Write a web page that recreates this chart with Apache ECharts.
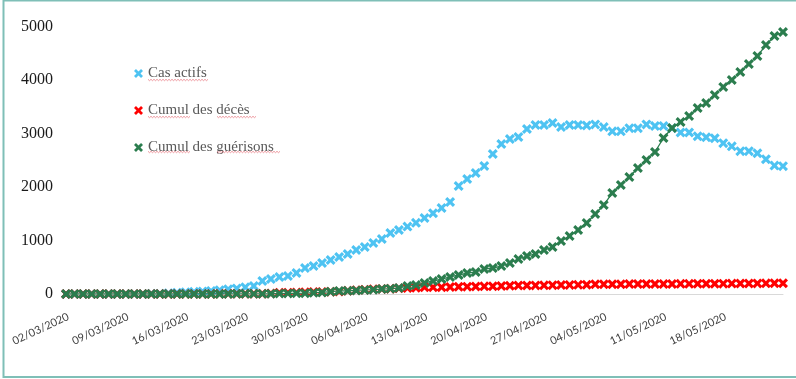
<!DOCTYPE html>
<html>
<head>
<meta charset="utf-8">
<script src="https://cdn.jsdelivr.net/npm/echarts@6/dist/echarts.min.js"></script>
<style>
html,body{margin:0;padding:0;background:#fff;}
#c{width:796px;height:379px;}
</style>
</head>
<body>
<div id="c"></div>
<script>
// Categories (daily, 02/03/2020 -> 25/05/2020)
const dates = [
"02/03/2020","03/03/2020","04/03/2020","05/03/2020","06/03/2020","07/03/2020","08/03/2020","09/03/2020","10/03/2020","11/03/2020",
"12/03/2020","13/03/2020","14/03/2020","15/03/2020","16/03/2020","17/03/2020","18/03/2020","19/03/2020","20/03/2020","21/03/2020",
"22/03/2020","23/03/2020","24/03/2020","25/03/2020","26/03/2020","27/03/2020","28/03/2020","29/03/2020","30/03/2020","31/03/2020",
"01/04/2020","02/04/2020","03/04/2020","04/04/2020","05/04/2020","06/04/2020","07/04/2020","08/04/2020","09/04/2020","10/04/2020",
"11/04/2020","12/04/2020","13/04/2020","14/04/2020","15/04/2020","16/04/2020","17/04/2020","18/04/2020","19/04/2020","20/04/2020",
"21/04/2020","22/04/2020","23/04/2020","24/04/2020","25/04/2020","26/04/2020","27/04/2020","28/04/2020","29/04/2020","30/04/2020",
"01/05/2020","02/05/2020","03/05/2020","04/05/2020","05/05/2020","06/05/2020","07/05/2020","08/05/2020","09/05/2020","10/05/2020",
"11/05/2020","12/05/2020","13/05/2020","14/05/2020","15/05/2020","16/05/2020","17/05/2020","18/05/2020","19/05/2020","20/05/2020",
"21/05/2020","22/05/2020","23/05/2020","24/05/2020","25/05/2020"
];

// Tick labels shown on the date axis
const xTickLabels = ["02/03/2020","09/03/2020","16/03/2020","23/03/2020","30/03/2020","06/04/2020","13/04/2020","20/04/2020","27/04/2020","04/05/2020","11/05/2020","18/05/2020"];

const seriesNames = ["Cas actifs", "Cumul des décès", "Cumul des guérisons"];

const casActifs = [
1,1,1,1,1,1,1,1,1,1,
5,6,15,25,33,40,48,58,72,88,105,125,
150,243,280,318,336,392,486,523,579,635,692,748,822,878,953,1028,1140,1196,
1260,1330,1420,1510,
1607,1720,2018,2149,2261,2392,2617,2803,2897,2934,3084,
3159,3159,3196,3121,3159,3159,3150,3170,3120,3040,3040,3100,3100,3170,3140,3140,3100,3020,3020,2950,2930,2910,2820,2760,2670,2670,2630,2520,2400,2390
];

const cumulDeces = [
0,0,0,0,0,0,0,0,
1,1,1,1,1,1,
2,2,2,2,
3,3,4,4,
5,6,10,23,25,26,33,36,
39,44,48,59,70,80,90,93,97,107,
111,118,126,126,127,130,135,137,141,143,
145,149,155,158,159,161,162,165,168,170,
171,173,181,181,183,183,186,186,188,188,
188,188,190,190,192,192,192,193,194,196,
197,198,199,200,202
];

const cumulGuerisons = [
0,0,0,0,0,0,0,0,0,0,0,0,0,0,0,
1,1,1,1,2,
3,3,3,3,5,8,11,13,15,24,
29,44,57,59,66,76,81,93,100,112,
150,168,206,243,280,318,355,392,411,467,
486,523,579,654,710,748,822,878,991,1084,
1196,1327,1495,1663,1888,2037,2187,2355,2504,2654,
2916,3103,3215,3327,3476,3570,3719,3869,4000,4149,
4299,4448,4654,4822,4897
];

const yTicks = [0, 1000, 2000, 3000, 4000, 5000];

const colors = ["#4ec3f2", "#ff0000", "#2b7d4e"];
const xMark = 'path://M0,2.2 L2.2,0 L5,2.8 L7.8,0 L10,2.2 L7.2,5 L10,7.8 L7.8,10 L5,7.2 L2.2,10 L0,7.8 L2.8,5 Z';

function squiggle(x0, x1, y) {
  const pts = [];
  let up = true;
  for (let x = x0; x <= x1; x += 1.5) { pts.push([x, y + (up ? -0.7 : 0.7)]); up = !up; }
  return {type: 'polyline', silent: true, z: 10, shape: {points: pts}, style: {stroke: '#e87b84', lineWidth: 0.8, fill: null}};
}

const chart = echarts.init(document.getElementById('c'), null, {renderer: 'canvas'});
chart.setOption({
  animation: false,
  backgroundColor: '#ffffff',
  grid: {left: 66, right: 13, top: 26.5, bottom: 85, containLabel: false},
  legend: {
    orient: 'vertical',
    left: 134,
    top: 66,
    padding: 0,
    itemWidth: 9,
    itemHeight: 14,
    itemGap: 22,
    textStyle: {fontFamily: '"Liberation Serif", serif', fontSize: 15, color: '#595959'},
    data: seriesNames.map((n, i) => ({name: n, icon: xMark, itemStyle: {color: colors[i]}}))
  },
  xAxis: {
    type: 'category',
    data: dates,
    boundaryGap: false,
    axisLine: {lineStyle: {color: '#d9d9d9', width: 1}},
    axisTick: {show: false},
    axisLabel: {
      interval: (idx, val) => xTickLabels.indexOf(val) >= 0,
      rotate: 25, margin: 17, verticalAlign: 'top',
      fontFamily: 'Lato, "Open Sans", sans-serif', fontSize: 11, color: '#404040'
    },
    splitLine: {show: false}
  },
  yAxis: {
    type: 'value',
    min: yTicks[0],
    max: yTicks[yTicks.length - 1],
    interval: 1000,
    axisLine: {show: false},
    axisTick: {show: false},
    splitLine: {show: false},
    axisLabel: {margin: 13, formatter: v => String(v), fontFamily: '"Liberation Serif", serif', fontSize: 16, color: '#1a1a1a'}
  },
  graphic: [
    {type: 'rect', silent: true, shape: {x: 3.5, y: 0.5, width: 900, height: 376.5}, style: {fill: null, stroke: '#7fbfb7', lineWidth: 2}},
    squiggle(148, 209, 80),
    squiggle(148, 190, 117),
    squiggle(217, 256, 117),
    squiggle(148, 190, 152),
    squiggle(217, 281, 152)
  ],
  series: [
    {name: seriesNames[0], type: 'line', data: casActifs, symbol: xMark, symbolSize: 10, showAllSymbol: true,
     itemStyle: {color: colors[0]}, lineStyle: {width: 0, color: colors[0]}, z: 2},
    {name: seriesNames[1], type: 'line', data: cumulDeces, symbol: xMark, symbolSize: 10, showAllSymbol: true,
     itemStyle: {color: colors[1]}, lineStyle: {width: 0, color: colors[1]}, z: 3},
    {name: seriesNames[2], type: 'line', data: cumulGuerisons, symbol: xMark, symbolSize: 10, showAllSymbol: true,
     itemStyle: {color: colors[2]}, lineStyle: {width: 1.3, color: colors[2]}, z: 4}
  ]
});
</script>
</body>
</html>
